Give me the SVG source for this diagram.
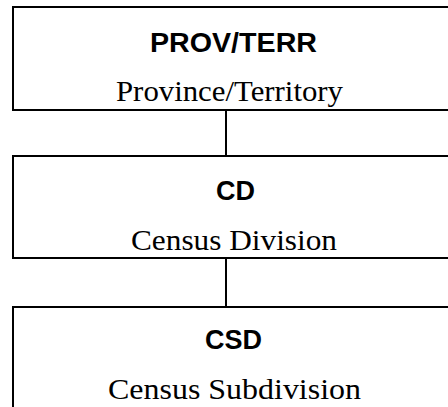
<svg xmlns="http://www.w3.org/2000/svg" width="448" height="407" viewBox="0 0 448 407">
<style>
.box{fill:#fff;stroke:#000;stroke-width:2}
.con{stroke:#000;stroke-width:2;fill:none}
.code{font-family:"Liberation Sans",Arial,sans-serif;font-weight:bold;font-size:27px;fill:#000}
.name{font-family:"Liberation Serif","Times New Roman",serif;font-size:30px;fill:#000}
</style>
<rect width="448" height="407" fill="#fff"/>
<g id="connectors">
<line class="con" x1="226" y1="110" x2="226" y2="156"/>
<line class="con" x1="226" y1="258" x2="226" y2="307"/>
</g>
<g id="provterr">
<rect class="box" x="13" y="7" width="460" height="103"/>
<text class="code" x="150" y="52" textLength="167" lengthAdjust="spacingAndGlyphs">PROV/TERR</text>
<text class="name" x="116" y="101" textLength="227" lengthAdjust="spacingAndGlyphs">Province/Territory</text>
</g>
<g id="cd">
<rect class="box" x="13" y="156" width="460" height="102"/>
<text class="code" x="216" y="200" textLength="39" lengthAdjust="spacingAndGlyphs">CD</text>
<text class="name" x="131" y="250" textLength="206" lengthAdjust="spacingAndGlyphs">Census Division</text>
</g>
<g id="csd">
<rect class="box" x="13" y="307" width="460" height="120"/>
<text class="code" x="205" y="349" textLength="57" lengthAdjust="spacingAndGlyphs">CSD</text>
<text class="name" x="108" y="399" textLength="253" lengthAdjust="spacingAndGlyphs">Census Subdivision</text>
</g>
</svg>
